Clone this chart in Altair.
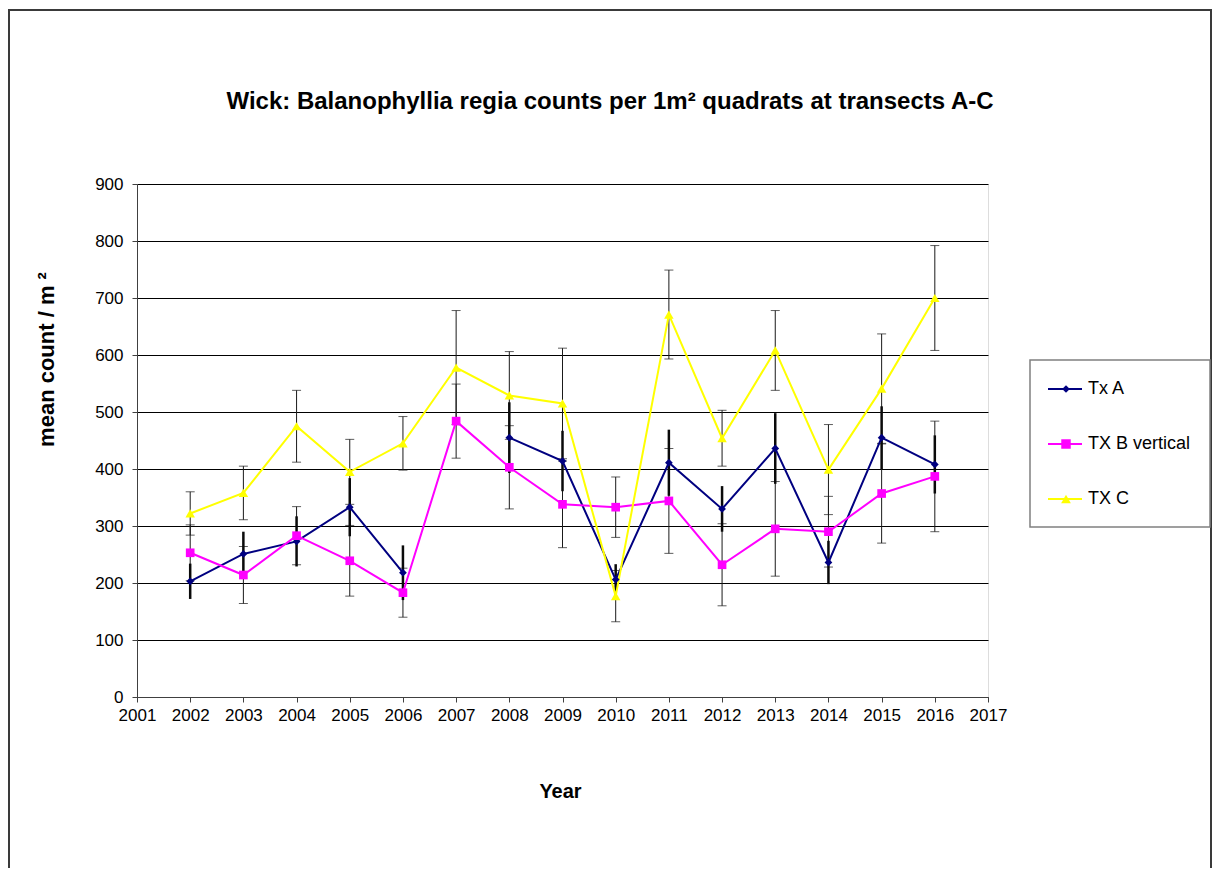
import altair as alt
import pandas as pd

# ---------------- data ----------------
years = list(range(2002, 2017))
series_names = ["Tx A", "TX B vertical", "TX C"]
tx_a = [203, 251, 273, 333, 218, None, 455, 414, 206, 411, 330, 436, 236, 455, 408]
tx_a_err = [31, 39, 44, 51, 48, None, 62, 53, 27, 58, 40, 62, 38, 55, 51]
tx_b = [253, 214, 283, 239, 183, 484, 403, 338, 333, 344, 232, 295, 290, 357, 387]
tx_b_err = [49, 50, 51, 62, 43, 65, 73, 76, 53, 92, 72, 83, 62, 87, 97]
tx_c = [322, 358, 475, 395, 445, 578, 529, 515, 177, 671, 454, 608, 399, 541, 700]
tx_c_err = [38, 47, 63, 57, 47, 100, 77, 97, 45, 78, 49, 70, 79, 96, 92]
x_ticks = list(range(2001, 2018))
y_ticks = list(range(0, 901, 100))
title_text = "Wick: Balanophyllia regia counts per 1m\u00b2 quadrats at transects A-C"

colors = ["#000080", "#FF00FF", "#FFFF00"]
shapes = ["diamond", "square", "triangle-up"]
sizes = [60, 90, 95]

rows = []
for name, vals, errs in zip(series_names, [tx_a, tx_b, tx_c], [tx_a_err, tx_b_err, tx_c_err]):
    seg = 0
    for yr, v, e in zip(years, vals, errs):
        if v is None:
            seg += 1
            continue
        rows.append(dict(series=name, year=yr, value=v, lo=v - e, hi=v + e,
                         seg=f"{name}-{seg}"))
df = pd.DataFrame(rows)

FONT = "Liberation Sans"
W, H = 851, 513

x_scale = alt.Scale(domain=[2001, 2017], nice=False, zero=False)
y_scale = alt.Scale(domain=[0, 900], nice=False, zero=True)
x_axis = alt.Axis(values=x_ticks, format="d", grid=False, labelFontSize=17, labelFont=FONT,
                  labelColor="#000", labelPadding=5, tickSize=5, tickColor="#404040",
                  domainColor="#404040", titleFont=FONT, titleFontSize=20, titleFontWeight="bold",
                  titleColor="#000", titleX=423, titleY=100, titleBaseline="alphabetic",
                  titleAnchor="start", titleAlign="center", labelFlush=False)
y_axis = alt.Axis(values=y_ticks, grid=True, gridColor="#000000", gridWidth=1,
                  labelFontSize=17, labelFont=FONT, labelColor="#000", labelPadding=9,
                  tickSize=5, tickColor="#404040", domainColor="#404040",
                  titleFont=FONT, titleFontSize=22, titleFontWeight="bold", titleColor="#000",
                  titleAngle=270, titleX=-84, titleY=175, titleBaseline="alphabetic",
                  titleAlign="center", labelFlush=False)

X = lambda f: alt.X(f, scale=x_scale, axis=x_axis, title="Year")
Y = lambda f: alt.Y(f, scale=y_scale, axis=y_axis, title="mean count / m \u00b2")

color = alt.Color("series:N", scale=alt.Scale(domain=series_names, range=colors), legend=None)
shape = alt.Shape("series:N", scale=alt.Scale(domain=series_names, range=shapes), legend=None)
size = alt.Size("series:N", scale=alt.Scale(domain=series_names, range=sizes), legend=None)

base = alt.Chart(df)
thin = base.transform_filter(alt.FieldOneOfPredicate(field="series", oneOf=series_names[1:]))
thick = base.transform_filter(alt.FieldEqualPredicate(field="series", equal=series_names[0]))

err_thin = thin.mark_rule(color="#1a1a1a", strokeWidth=1).encode(x=X("year:Q"), y=Y("lo:Q"), y2="hi:Q")
cap_lo = thin.mark_tick(orient="horizontal", size=9, thickness=1, color="#1a1a1a").encode(x=X("year:Q"), y=Y("lo:Q"))
cap_hi = thin.mark_tick(orient="horizontal", size=9, thickness=1, color="#1a1a1a").encode(x=X("year:Q"), y=Y("hi:Q"))
err_thick = thick.mark_rule(color="#0a0a0a", strokeWidth=2.5).encode(x=X("year:Q"), y=Y("lo:Q"), y2="hi:Q")

lines = base.mark_line(strokeWidth=2).encode(
    x=X("year:Q"), y=Y("value:Q"), color=color, detail="seg:N", order="year:Q")
points = base.mark_point(filled=True, opacity=1).encode(
    x=X("year:Q"), y=Y("value:Q"), color=color, shape=shape, size=size)

# outer frame (decoration)
frame = alt.Chart(pd.DataFrame({"a": [0]})).mark_rect(
    fillOpacity=0, stroke="#3a3a3a", strokeWidth=2).encode(
    x=alt.value(-128), x2=alt.value(1074), y=alt.value(-174), y2=alt.value(720))

# chart title as a text layer
title = alt.Chart(pd.DataFrame({"t": [title_text]})).mark_text(
    font=FONT, fontSize=24, fontWeight="bold", color="#000", align="center",
    baseline="alphabetic").encode(x=alt.value(473), y=alt.value(-75), text="t:N")

# legend (decoration built from the series names)
leg_layers = [alt.Chart(pd.DataFrame({"a": [0]})).mark_rect(
    fill="white", stroke="#808080", strokeWidth=1.5).encode(
    x=alt.value(893), x2=alt.value(1073), y=alt.value(176), y2=alt.value(343))]
for i, name in enumerate(series_names):
    ly = 205 + 55 * i
    d = pd.DataFrame({"series": [name]})
    leg_layers.append(alt.Chart(d).mark_rule(strokeWidth=2, color=colors[i]).encode(
        x=alt.value(911), x2=alt.value(945), y=alt.value(ly)))
    leg_layers.append(alt.Chart(d).mark_point(filled=True, opacity=1, shape=shapes[i],
                                              size=sizes[i], color=colors[i]).encode(
        x=alt.value(929), y=alt.value(ly)))
    leg_layers.append(alt.Chart(d).mark_text(align="left", baseline="middle", fontSize=18,
                                             font=FONT, color="#000").encode(
        x=alt.value(951), y=alt.value(ly), text="series:N"))

chart = alt.layer(frame, title, err_thin, cap_lo, cap_hi, err_thick, lines, points, *leg_layers).properties(
    width=W, height=H,
    padding={"left": 129, "top": 176, "right": 225, "bottom": 171},
    autosize=alt.AutoSizeParams(type="none"),
).configure_view(fill="#C0C0C0", stroke="#808080", strokeWidth=1.5).configure(background="white")

chart.save("out.html", embed_options={"renderer": "svg", "actions": False})
